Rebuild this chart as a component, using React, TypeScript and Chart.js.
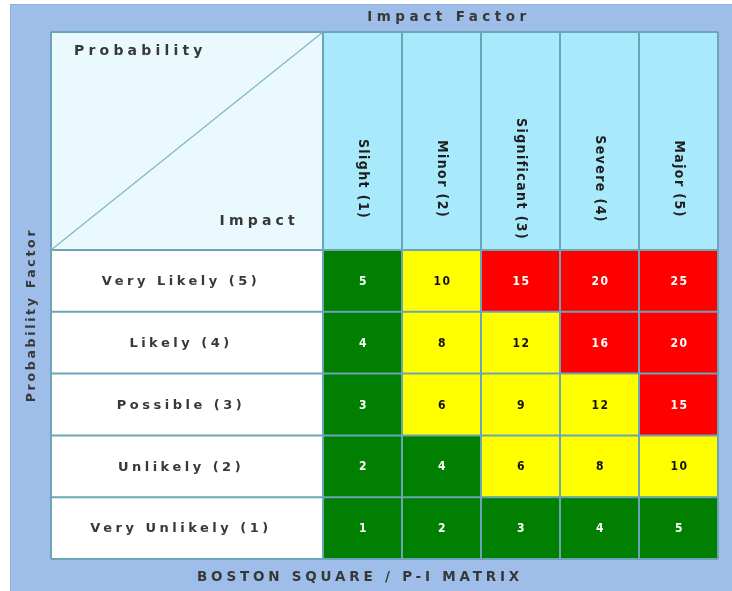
import React, { useEffect, useRef } from "react";
import { Chart, registerables } from "chart.js";

Chart.register(...registerables);

// ---- data ----
const impactLabels = ["Slight (1)", "Minor (2)", "Significant (3)", "Severe (4)", "Major (5)"];
// bottom row first
const probabilityLabels = ["Very Unlikely (1)", "Unlikely (2)", "Possible (3)", "Likely (4)", "Very Likely (5)"];
const veryUnlikelyScores = [1, 2, 3, 4, 5];
const unlikelyScores = [2, 4, 6, 8, 10];
const possibleScores = [3, 6, 9, 12, 15];
const likelyScores = [4, 8, 12, 16, 20];
const veryLikelyScores = [5, 10, 15, 20, 25];
const scoreRows = [veryUnlikelyScores, unlikelyScores, possibleScores, likelyScores, veryLikelyScores];
const cellSpan = [1, 1, 1, 1, 1];
const topTitle = "Impact Factor";
const bottomTitle = "BOSTON SQUARE / P-I MATRIX";
const sideTitle = "Probability Factor";
const cornerTop = "Probability";
const cornerBottom = "Impact";

// ---- styles ----
const GREEN = "#007f00";
const YELLOW = "#ffff00";
const RED = "#ff0000";
const PANEL = "#9ebde9";
const HEADER = "#a8eafc";
const CORNER = "#eaf9fd";
const GRID = "#6aa6b5";
const TEXT = "#383838";

const colorFor = (s: number) => (s <= 5 ? GREEN : s <= 12 ? YELLOW : RED);
const textColorFor = (s: number) => (s > 5 && s <= 12 ? "#111" : "#ffffff");

const TABLE_LEFT = 51;
const TABLE_TOP = 32;

const matrixPlugin = {
  id: "matrixDecor",
  beforeDraw(chart: any) {
    const ctx = chart.ctx as CanvasRenderingContext2D;
    const { chartArea } = chart;
    ctx.save();
    ctx.fillStyle = "#ffffff";
    ctx.fillRect(0, 0, chart.width, chart.height);
    ctx.fillStyle = PANEL;
    ctx.fillRect(10, 4, chart.width - 10, chart.height - 4);
    ctx.strokeStyle = "#8fb0dc";
    ctx.lineWidth = 1;
    ctx.strokeRect(10.5, 4.5, chart.width - 10, chart.height - 4);

    ctx.fillStyle = CORNER;
    ctx.fillRect(TABLE_LEFT, TABLE_TOP, chartArea.left - TABLE_LEFT, chartArea.top - TABLE_TOP);
    ctx.fillStyle = HEADER;
    ctx.fillRect(chartArea.left, TABLE_TOP, chartArea.right - chartArea.left, chartArea.top - TABLE_TOP);
    ctx.fillStyle = "#ffffff";
    ctx.fillRect(TABLE_LEFT, chartArea.top, chartArea.left - TABLE_LEFT, chartArea.bottom - chartArea.top);
    ctx.restore();
  },
  afterDatasetsDraw(chart: any) {
    const ctx = chart.ctx as CanvasRenderingContext2D;
    const { chartArea } = chart;
    const first = chart.getDatasetMeta(0).data;
    ctx.save();

    // grid lines
    ctx.strokeStyle = GRID;
    ctx.lineWidth = 2;
    const xs: number[] = [TABLE_LEFT, chartArea.left];
    first.forEach((b: any) => xs.push(b.x + b.width / 2));
    const ys: number[] = [TABLE_TOP, chartArea.top];
    chart.data.datasets.forEach((_: any, i: number) => {
      const b: any = chart.getDatasetMeta(i).data[0];
      ys.push(b.base);
    });
    ctx.beginPath();
    xs.forEach((x) => {
      ctx.moveTo(x, TABLE_TOP);
      ctx.lineTo(x, chartArea.bottom);
    });
    ys.forEach((y) => {
      ctx.moveTo(TABLE_LEFT, y);
      ctx.lineTo(chartArea.right, y);
    });
    ctx.stroke();
    ctx.strokeStyle = "#7fb6c4";
    ctx.lineWidth = 1.2;
    ctx.beginPath();
    ctx.moveTo(TABLE_LEFT, chartArea.top);
    ctx.lineTo(chartArea.left, TABLE_TOP);
    ctx.stroke();

    // cell values
    ctx.textAlign = "center";
    ctx.textBaseline = "middle";
    ctx.font = "bold 12px 'DejaVu Sans Condensed', 'DejaVu Sans'";
    (ctx as any).letterSpacing = "1.5px";
    scoreRows.forEach((row, i) => {
      const meta = chart.getDatasetMeta(i);
      row.forEach((s, j) => {
        const b: any = meta.data[j];
        ctx.fillStyle = textColorFor(s);
        ctx.fillText(String(s), b.x + 1, (b.y + b.base) / 2 + 1);
      });
    });

    // row labels
    ctx.fillStyle = TEXT;
    ctx.font = "bold 13px 'DejaVu Sans'";
    (ctx as any).letterSpacing = "3.5px";
    probabilityLabels.forEach((lab, i) => {
      const b: any = chart.getDatasetMeta(i).data[0];
      ctx.fillText(lab, 181, (b.y + b.base) / 2 + 1);
    });

    // column headers (rotated)
    ctx.font = "bold 14px 'DejaVu Sans Condensed', 'DejaVu Sans'";
    (ctx as any).letterSpacing = "1.4px";
    ctx.fillStyle = "#1e1e1e";
    const headerMid = TABLE_TOP + (chartArea.top - TABLE_TOP) * 0.67;
    impactLabels.forEach((lab, j) => {
      const b: any = first[j];
      ctx.save();
      ctx.translate(b.x, headerMid);
      ctx.rotate(Math.PI / 2);
      ctx.fillText(lab, 1, 0);
      ctx.restore();
    });

    // corner texts
    ctx.fillStyle = TEXT;
    ctx.font = "bold 14px 'DejaVu Sans'";
    (ctx as any).letterSpacing = "4.2px";
    ctx.textAlign = "left";
    ctx.fillText(cornerTop, 74, 51);
    ctx.textAlign = "right";
    ctx.fillText(cornerBottom, 299, 221);

    // titles
    ctx.textAlign = "center";
    ctx.font = "bold 13.5px 'DejaVu Sans'";
    (ctx as any).letterSpacing = "4.5px";
    ctx.fillText(topTitle, 449, 17);
    (ctx as any).letterSpacing = "3.8px";
    ctx.fillText(bottomTitle, 360, 577);

    ctx.save();
    ctx.font = "bold 12.5px 'DejaVu Sans'";
    (ctx as any).letterSpacing = "2.7px";
    ctx.translate(32, 316);
    ctx.rotate(-Math.PI / 2);
    ctx.fillText(sideTitle, 1, 0);
    ctx.restore();

    ctx.restore();
  },
};

export default function App() {
  const ref = useRef<HTMLCanvasElement | null>(null);
  useEffect(() => {
    document.body.style.margin = "0";
    if (!ref.current) return;
    const chart = new Chart(ref.current, {
      type: "bar",
      data: {
        labels: impactLabels,
        datasets: scoreRows.map((row, i) => ({
          label: probabilityLabels[i],
          data: cellSpan,
          backgroundColor: row.map(colorFor),
          borderWidth: 0,
          categoryPercentage: 1,
          barPercentage: 1,
        })),
      },
      options: {
        responsive: false,
        animation: false,
        layout: { padding: { left: 323, top: 250, right: 14, bottom: 32 } },
        scales: {
          x: { stacked: true, display: false },
          y: { stacked: true, display: false, min: 0, max: 5 },
        },
        plugins: { legend: { display: false }, tooltip: { enabled: false } },
      },
      plugins: [matrixPlugin],
    });
    return () => chart.destroy();
  }, []);
  return (
    <div style={{ width: 732, height: 591 }}>
      <canvas ref={ref} width={732} height={591} style={{ display: "block" }} />
    </div>
  );
}
